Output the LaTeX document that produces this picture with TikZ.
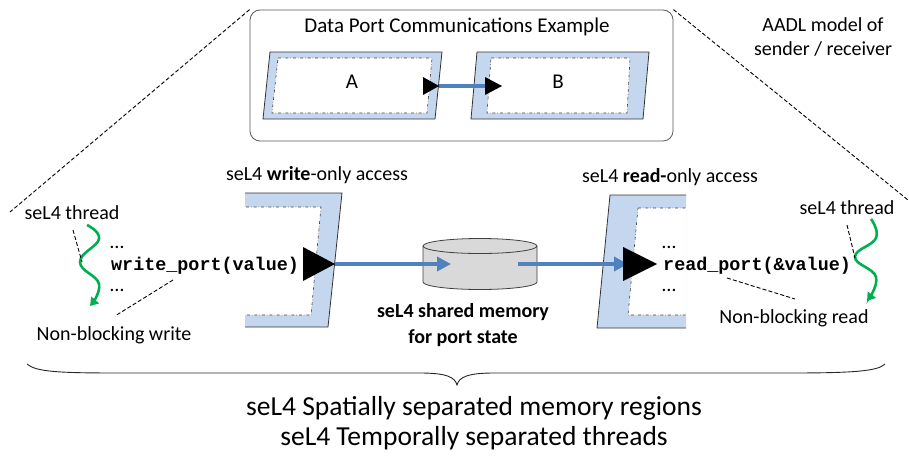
\documentclass[tikz,border=0pt]{standalone}
\usepackage{fontspec}
\setmainfont{Carlito}
\newfontfamily\codefont{Liberation Mono}
\usetikzlibrary{arrows.meta}
\definecolor{portblue}{HTML}{C5D7EE}
\definecolor{arrowblue}{HTML}{4F81BD}
\definecolor{wavegreen}{HTML}{00B050}
\definecolor{cylgray}{HTML}{D9D9D9}
\begin{document}
\begin{tikzpicture}[x=1pt,y=-1pt,
  portframe/.style={fill=portblue, draw=black!80, line width=0.8pt},
  innerframe/.style={fill=white, draw=black!75, dash dot, line width=0.6pt},
  guide/.style={draw=black, dash pattern=on 4pt off 2.2pt, line width=0.9pt},
  flow/.style={draw=arrowblue, line width=3.8pt, -{Triangle[length=14pt,width=14pt]}},
  link/.style={draw=arrowblue, line width=3.8pt},
  porttri/.style={fill=black},
  wave/.style={draw=wavegreen, line width=2.6pt, -{Triangle[length=8pt,width=10pt]}},
  lbl/.style={font=\fontsize{20}{24}\selectfont, inner sep=0pt},
  title/.style={font=\fontsize{21}{25}\selectfont, inner sep=0pt},
  big/.style={font=\fontsize{27.5}{30}\selectfont, inner sep=0pt, align=center},
  code/.style={font=\codefont\bfseries\fontsize{18.4}{21}\selectfont, inner sep=0pt, anchor=west}
]
\useasboundingbox (0,0) rectangle (909,455);

% ---------- AADL model box ----------
\node[draw=black!65, line width=0.8pt, rounded corners=10pt, minimum width=423pt, minimum height=131pt, inner sep=0pt] (aadl) at (461.5,75.5) {};
\node[title] (ttl) at (457,27) {Data Port Communications Example};

% port A
\path[portframe] (270,52) -- (442,52) -- (435,119) -- (263,119) -- cycle;
\path[innerframe] (278,58) -- (432,58) -- (427,113) -- (272,113) -- cycle;
\node[title] (A) at (352,82) {A};
% port B
\path[portframe] (477,52) -- (649,52) -- (643,119) -- (471,119) -- cycle;
\path[innerframe] (491,58) -- (630,58) -- (627,113) -- (487,113) -- cycle;
\node[title] (B) at (558,82) {B};

\coordinate (atip) at (439,86);
\coordinate (bbase) at (486,86);
\draw[link] (atip) -- (bbase);
\path[porttri] (423,77) -- (atip) -- (423,95) -- cycle;
\path[porttri] (485,77) -- (502,86) -- (485,95) -- cycle;

\node[lbl, align=center] (aadllbl) at (823,37) {AADL model of\\sender / receiver};

% ---------- zoom guide lines ----------
\coordinate (gl) at (10,212);
\coordinate (gr) at (908,200);
\draw[guide] (aadl.north west) -- (gl);
\draw[guide] (aadl.north east) -- (gr);

% ---------- writer side ----------
\node[lbl] (wacc) at (317,175) {seL4 \textbf{write}-only access};
\begin{scope}
  \clip (245,150) rectangle (400,345);
  \path[portframe] (150,193) -- (342,193) -- (328,327) -- (150,327) -- cycle;
  \path[innerframe] (150,207) -- (321,207) -- (311,315) -- (150,315) -- cycle;
\end{scope}

\node[lbl] (wthr) at (72,213) {seL4 thread};
\draw[wave] plot[smooth, tension=0.75] coordinates {(87,225) (99,239) (80,262) (99,284) (90,306)};
\coordinate (wthrend) at (82,262);
\draw[guide] (73,230) -- (wthrend);

\node[lbl, anchor=west] (wd1) at (110,247) {…};
\node[code] (wcode) at (111,266) {write\_port(value)};
\node[lbl, anchor=west] (wd2) at (110,290) {…};
\node[lbl] (wnb) at (114,335) {Non-blocking write};
\draw[guide] (173,280) -- (115,316);

\coordinate (wtip) at (335,264);

% ---------- shared memory ----------
\path[fill=cylgray, draw=black!75, line width=0.8pt] (423,246) -- (423,282)
  arc[start angle=180, end angle=0, x radius=57, y radius=7.5] -- (537,246)
  arc[start angle=0, end angle=-180, x radius=57, y radius=7.5] -- cycle;
\draw[black!75, line width=0.8pt] (423,246) arc[start angle=180, end angle=0, x radius=57, y radius=7.5];
\coordinate (memin) at (451,264);
\coordinate (memout) at (518,264);
\node[lbl, font=\fontsize{20}{24}\selectfont\bfseries, align=center] (memlbl) at (463,325) {seL4 shared memory\\[2pt]for port state};

\draw[flow] (wtip) -- (memin);
\path[porttri] (303,247) -- (wtip) -- (303,281) -- cycle;

% ---------- reader side ----------
\node[lbl] (racc) at (670,177) {seL4 \textbf{read-}only access};
\begin{scope}
  \clip (560,150) rectangle (686,345);
  \path[portframe] (610,195) -- (760,195) -- (760,328) -- (597,328) -- cycle;
  \path[innerframe] (638,208) -- (760,208) -- (760,315) -- (628,315) -- cycle;
\end{scope}

\coordinate (rin) at (628,264);
\draw[flow] (memout) -- (rin);
\path[porttri] (623,247) -- (657,264) -- (623,281) -- cycle;

\node[lbl, anchor=west] (rd1) at (662,247) {…};
\node[code] (rcode) at (663,266) {read\_port(\&value)};
\node[lbl, anchor=west] (rd2) at (662,290) {…};
\node[lbl] (rnb) at (794,318) {Non-blocking read};
\draw[guide] (727,278) -- (795,299);

\node[lbl] (rthr) at (847,208) {seL4 thread};
\draw[wave] plot[smooth, tension=0.75] coordinates {(871,219) (876,238) (855,257) (876,277) (867,301)};
\coordinate (rthrend) at (855,258);
\draw[guide] (847,225) -- (rthrend);

% ---------- brace and summary ----------
\draw[black!85, line width=0.9pt] (27,364) .. controls (36,372) and (60,373) .. (120,373) -- (420,373)
  .. controls (446,373) and (455,377) .. (457,385)
  .. controls (459,377) and (468,373) .. (494,373) -- (790,373)
  .. controls (855,373) and (878,371) .. (885,364);
\node[big] (summary) at (474,423) {seL4 Spatially separated memory regions\\seL4 Temporally separated threads};
\end{tikzpicture}
\end{document}
